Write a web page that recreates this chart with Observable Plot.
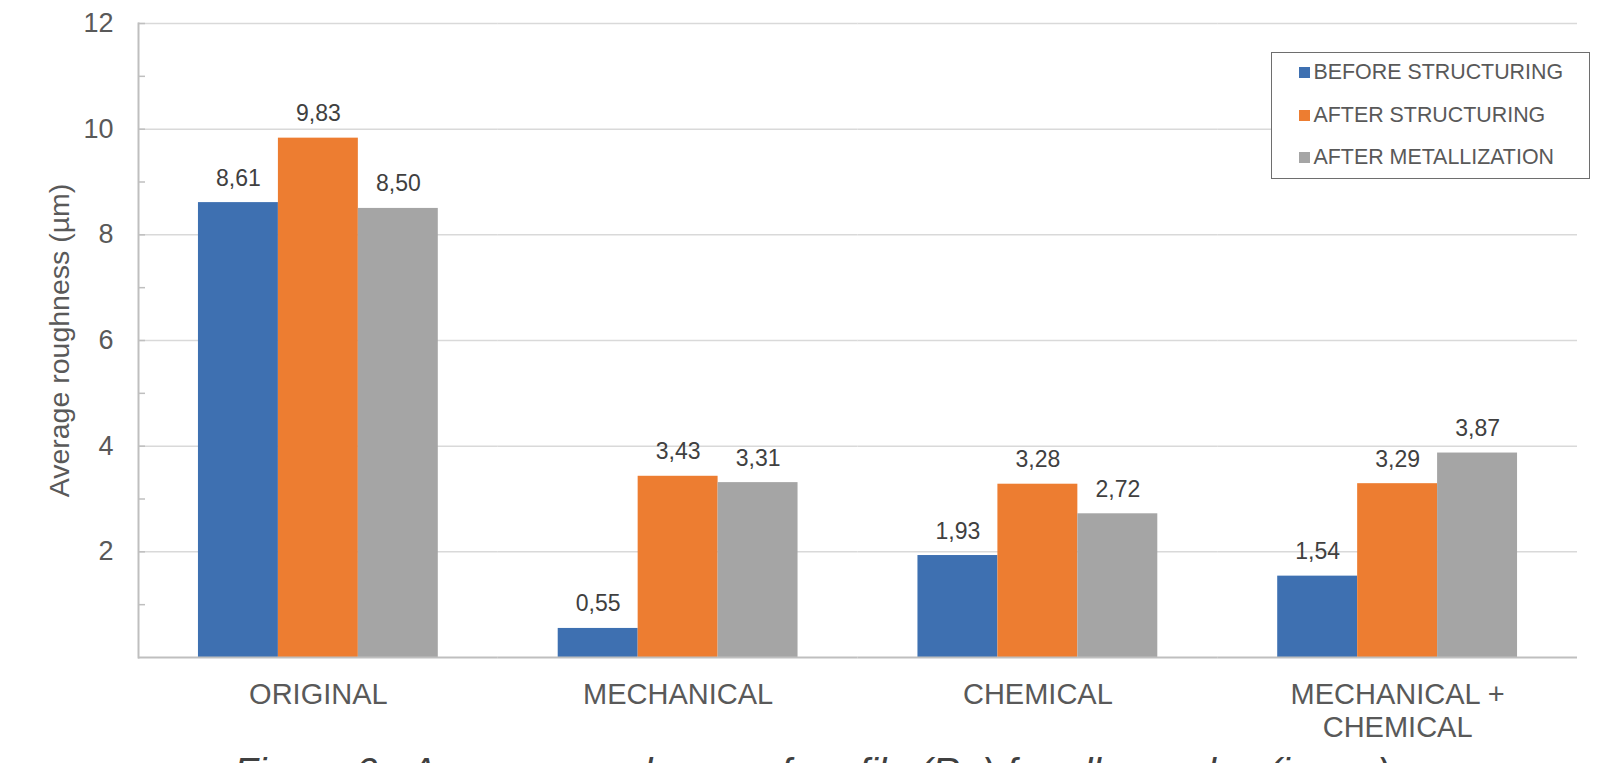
<!DOCTYPE html>
<html><head><meta charset="utf-8">
<script src="https://cdn.jsdelivr.net/npm/d3@7"></script>
<script src="https://cdn.jsdelivr.net/npm/@observablehq/plot@0.6"></script>
<style>
html,body{margin:0;padding:0;overflow:hidden;background:#fff;}
#wrap{position:relative;width:1624px;height:763px;font-family:"Liberation Sans",Arial,sans-serif;}
#chart svg{display:block}
#legend{position:absolute;left:1271px;top:52px;width:319px;height:127px;box-sizing:border-box;border:1.5px solid #6e6e6e;background:#fff;}
.rows{margin-top:-1.4px;}
.row{height:42.3px;display:flex;align-items:center;padding-left:26.5px;font-size:21.4px;color:#595959;white-space:nowrap;}
.sw{width:11px;height:11px;margin-right:4px;flex:none;}
#caption{position:absolute;left:0;top:752px;width:1624px;text-align:center;font-style:italic;font-size:39px;line-height:39px;color:#404040;white-space:nowrap;}
</style></head><body>
<div id="wrap"><div id="chart"></div><div id="legend"><div class="rows" id="rows"></div></div><div id="caption"></div></div>
<script>
const categories = ["ORIGINAL", "MECHANICAL", "CHEMICAL", "MECHANICAL + CHEMICAL"];
const categoryLabels = ["ORIGINAL", "MECHANICAL", "CHEMICAL", "MECHANICAL +\nCHEMICAL"];
const series = ["BEFORE STRUCTURING", "AFTER STRUCTURING", "AFTER METALLIZATION"];
const beforeStructuring = [8.61, 0.55, 1.93, 1.54];
const afterStructuring = [9.83, 3.43, 3.28, 3.29];
const afterMetallization = [8.50, 3.31, 2.72, 3.87];
const colors = ["#3e70b1", "#ed7d31", "#a5a5a5"];
const yTicks = [2, 4, 6, 8, 10, 12];
const yTickLabels = ["2", "4", "6", "8", "10", "12"];
const yAllTicks = [1, 2, 3, 4, 5, 6, 7, 8, 9, 10, 11, 12];
const yTitle = "Average roughness (µm)";
const captionText = "Figure 6 - Average roughness of profile (Ra) for all samples (in µm)";

const seriesValues = [beforeStructuring, afterStructuring, afterMetallization];
const rows = categories.flatMap((c, i) => series.map((s, j) => ({category: c, series: s, value: seriesValues[j][i]})));
const fmt = v => v.toFixed(2).replace(".", ",");

const chart = Plot.plot({
  width: 1624, height: 763,
  marginLeft: 138, marginRight: 47, marginTop: 23, marginBottom: 106,
  style: {fontFamily: '"Liberation Sans", Arial, sans-serif', background: "transparent", overflow: "visible"},
  fx: {domain: categories, paddingInner: 0, paddingOuter: 0, round: false, label: null},
  x: {domain: series, paddingInner: 0, paddingOuter: 0.75, round: false, axis: null},
  y: {domain: [0, 12], axis: null},
  color: {domain: series, range: colors},
  marks: [
    Plot.gridY(yTicks, {stroke: "#d9d9d9", strokeOpacity: 1, strokeWidth: 1.5}),
    Plot.barY(rows, {fx: "category", x: "series", y: "value", fill: "series"}),
    Plot.ruleY([0], {stroke: "#bfbfbf", strokeWidth: 2}),
    Plot.frame({anchor: "left", facetAnchor: "left", stroke: "#bfbfbf", strokeWidth: 2}),
    Plot.axisY(yAllTicks, {tickSize: -7, fill: "none", stroke: "#bfbfbf", strokeWidth: 1.5, label: null}),
    Plot.axisY(yTicks, {tickSize: 0, tickPadding: 25, fontSize: 27, fill: "#595959", tickFormat: d => yTickLabels[yTicks.indexOf(d)], label: null}),
    Plot.text([yTitle], {fx: () => categories[0], text: d => d, frameAnchor: "left", rotate: -90, dx: -90, lineAnchor: "top", textAnchor: "middle", fontSize: 28.5, fill: "#595959"}),
    Plot.text(rows, {fx: "category", x: "series", y: "value", text: d => fmt(d.value), lineAnchor: "bottom", dy: -17, fontSize: 23, fill: "#404040"}),
    Plot.axisFx({anchor: "bottom", tickSize: 0, tickPadding: 23, fontSize: 29, lineHeight: 1.14, fill: "#595959", tickFormat: c => categoryLabels[categories.indexOf(c)], label: null})
  ]
});
document.getElementById("chart").appendChild(chart);

const legendRows = document.getElementById("rows");
series.forEach((s, i) => {
  const row = document.createElement("div");
  row.className = "row";
  const sw = document.createElement("span");
  sw.className = "sw";
  sw.style.background = colors[i];
  const t = document.createElement("span");
  t.textContent = s;
  row.appendChild(sw); row.appendChild(t);
  legendRows.appendChild(row);
});
document.getElementById("caption").textContent = captionText;
</script>
</body></html>
